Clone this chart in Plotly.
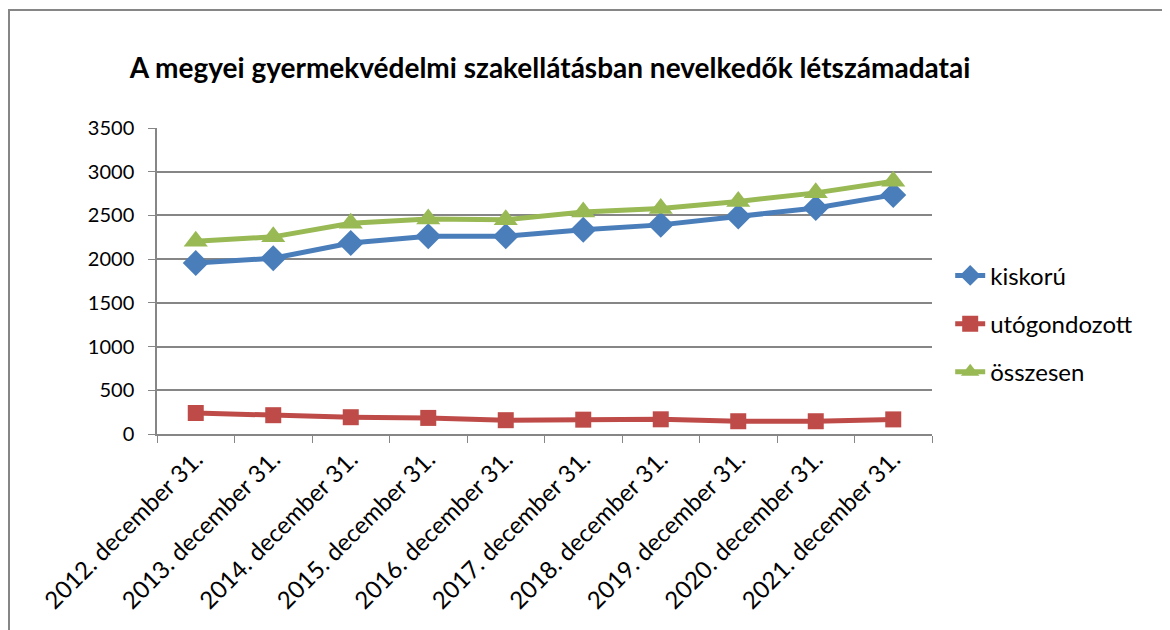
import plotly.graph_objects as go

categories = ["2012. december 31.", "2013. december 31.", "2014. december 31.",
              "2015. december 31.", "2016. december 31.", "2017. december 31.",
              "2018. december 31.", "2019. december 31.", "2020. december 31.",
              "2021. december 31."]
kiskoru = [1955, 2010, 2185, 2262, 2262, 2335, 2392, 2488, 2585, 2735]
utogondozott = [240, 215, 192, 184, 158, 164, 168, 146, 146, 167]
osszesen = [2205, 2255, 2410, 2460, 2450, 2540, 2578, 2660, 2758, 2890]

title_text = "A megyei gyermekvédelmi szakellátásban nevelkedők létszámadatai"
FONT = "Lato"

# plot area in figure coords (page body has an 8px margin)
L, R, T, B = 149, 924, 120, 426
W = R - L
H = B - T

fig = go.Figure()
fig.add_trace(go.Scatter(x=categories, y=kiskoru, name="kiskorú", mode="lines+markers",
                         legendgroup="a",
                         line=dict(color="#4A7EBB", width=5),
                         marker=dict(symbol="diamond", size=20, color="#4A7EBB")))
fig.add_trace(go.Scatter(x=categories, y=utogondozott, name="utógondozott", mode="lines+markers",
                         legendgroup="b",
                         line=dict(color="#BE4B48", width=5),
                         marker=dict(symbol="square", size=16, color="#BE4B48")))
fig.add_trace(go.Scatter(x=categories, y=osszesen, name="összesen", mode="lines+markers",
                         legendgroup="c",
                         line=dict(color="#98B954", width=5),
                         marker=dict(symbol="triangle-up", size=21, color="#98B954")))

fig.update_layout(
    width=1170, height=630,
    margin=dict(l=L, r=1170 - R, t=T, b=630 - B),
    paper_bgcolor="white", plot_bgcolor="white",
    font=dict(family=FONT, size=20, color="black"),
    title=dict(text="<b>" + title_text + "</b>", x=542 / 1170, xanchor="center",
               y=1 - 60 / 630, yanchor="middle", font=dict(size=28, family=FONT)),
    showlegend=True,
    legend=dict(x=1.008 + 12 / W, xanchor="left", y=0.36, yanchor="middle",
                font=dict(size=24), tracegroupgap=14,
                bgcolor="rgba(0,0,0,0)"),
    xaxis=dict(type="category", showgrid=False, showline=True, linecolor="#868686",
               linewidth=1.5, ticks="outside", ticklen=7, tickcolor="#868686",
               tickson="boundaries", tickangle=-45, tickfont=dict(size=24),
               range=[-0.5, 9.5]),
    yaxis=dict(range=[0, 3500], dtick=500, showgrid=True, gridcolor="#868686",
               gridwidth=1.5, showline=True, linecolor="#868686", linewidth=1.5,
               ticks="outside", ticklen=7, tickcolor="#868686", zeroline=False,
               tickfont=dict(size=20), ticklabelstandoff=10),
    shapes=[dict(type="rect", xref="paper", yref="paper",
                 x0=(1 - L) / W, x1=(1180 - L) / W,
                 y0=(B - 650) / H, y1=(B - 2) / H,
                 line=dict(color="#868686", width=2), layer="below")],
)

fig.write_html("out.html")
